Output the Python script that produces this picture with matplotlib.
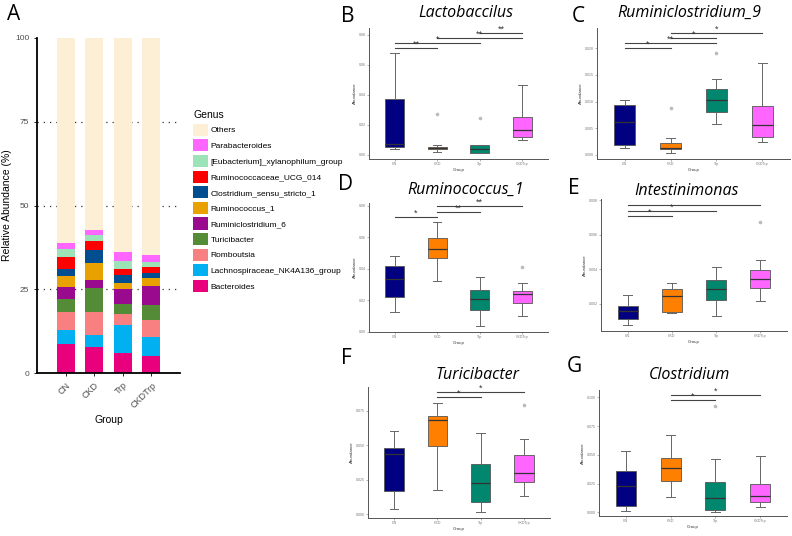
import matplotlib
matplotlib.use("Agg")
import matplotlib.pyplot as plt
import numpy as np

W, H = 792, 536

groups = ["CN", "CKD", "Trp", "CKDTrp"]

# panel A: relative abundance (%) per group
genus = ["Bacteroides", "Lachnospiraceae_NK4A136_group", "Romboutsia", "Turicibacter",
         "Ruminiclostridium_6", "Ruminococcus_1", "Clostridium_sensu_stricto_1",
         "Ruminococcaceae_UCG_014", "[Eubacterium]_xylanophilum_group", "Parabacteroides", "Others"]
genus_colors = ["#E8007D", "#00B0F0", "#F88080", "#548B36", "#9A0A8E", "#E8A100",
                "#004E8F", "#FF0000", "#9DE3B8", "#FF66FF", "#FDEED6"]
bacteroides = [8.8, 7.7, 5.9, 5.2]
lachno = [4.1, 3.5, 8.5, 5.5]
romboutsia = [5.2, 7.0, 3.3, 5.2]
turicibacter = [4.1, 7.1, 3.0, 4.4]
ruminiclost6 = [3.5, 2.6, 4.5, 5.6]
ruminococcus1 = [3.2, 5.0, 1.8, 2.5]
clost_sensu = [2.2, 3.7, 2.3, 1.6]
rum_ucg014 = [3.5, 2.8, 1.7, 1.6]
eubacterium = [2.4, 1.8, 2.5, 1.6]
parabacteroides = [1.8, 1.6, 2.6, 2.0]
others = [61.2, 57.2, 63.9, 64.8]
abund = [bacteroides, lachno, romboutsia, turicibacter, ruminiclost6, ruminococcus1,
         clost_sensu, rum_ucg014, eubacterium, parabacteroides, others]

# box panels: [whislo, q1, med, q3, whishi] for CN, CKD, Trp, CKDTrp
box_colors = ["#000080", "#FF7F00", "#00876E", "#FF66FF"]

lacto_box = [[0.0040, 0.0053, 0.0071, 0.0371, 0.0678],
             [0.0018, 0.0038, 0.0047, 0.0053, 0.0064],
             [0.0013, 0.0013, 0.0040, 0.0062, 0.0067],
             [0.0100, 0.0118, 0.0164, 0.0253, 0.0462]]
lacto_out = [[], [0.0273], [0.0244], []]
lacto_sig = [(1, 2, 0.0711, "**"), (1, 3, 0.0744, "*"), (2, 4, 0.0776, "**"), (3, 4, 0.0809, "**")]

rum9_box = [[0.0013, 0.0019, 0.0061, 0.0093, 0.0104],
            [0.0004, 0.0011, 0.0014, 0.0023, 0.0032],
            [0.0059, 0.0080, 0.0103, 0.0123, 0.0143],
            [0.0024, 0.0034, 0.0057, 0.0091, 0.0173]]
rum9_out = [[], [0.0088], [0.0191], []]
rum9_sig = [(1, 2, 0.0200, "*"), (1, 3, 0.0210, "**"), (2, 3, 0.0219, "*"), (2, 4, 0.0229, "*")]

rum1_box = [[0.0128, 0.0221, 0.0334, 0.0417, 0.0479],
            [0.0321, 0.0466, 0.0526, 0.0596, 0.0694],
            [0.0036, 0.0136, 0.0206, 0.0264, 0.0345],
            [0.0098, 0.0181, 0.0238, 0.0257, 0.0306]]
rum1_out = [[], [], [], [0.0413]]
rum1_sig = [(1, 2, 0.0728, "*"), (2, 3, 0.0760, "**"), (2, 4, 0.0798, "**")]

intest_box = [[0.00078, 0.00111, 0.00157, 0.00188, 0.00252],
              [0.00148, 0.00153, 0.00241, 0.00283, 0.00322],
              [0.00126, 0.00219, 0.00283, 0.00334, 0.00410],
              [0.00217, 0.00289, 0.00342, 0.00394, 0.00450]]
intest_out = [[], [], [], [0.00672]]
intest_sig = [(1, 2, 0.00705, "*"), (1, 3, 0.00738, "*"), (1, 4, 0.00773, "")]

turici_box = [[0.0041, 0.0167, 0.0440, 0.0481, 0.0606],
              [0.0179, 0.0493, 0.0684, 0.0710, 0.0807],
              [0.0017, 0.0087, 0.0227, 0.0367, 0.0592],
              [0.0130, 0.0237, 0.0302, 0.0432, 0.0546]]
turici_out = [[], [], [], [0.0790]]
turici_sig = [(2, 3, 0.0848, "*"), (2, 4, 0.0886, "*")]

clost_box = [[0.0015, 0.0058, 0.0227, 0.0358, 0.0532],
             [0.0131, 0.0270, 0.0384, 0.0471, 0.0669],
             [0.0006, 0.0023, 0.0128, 0.0265, 0.0468],
             [0.0047, 0.0087, 0.0142, 0.0250, 0.0494]]
clost_out = [[], [], [0.0927], []]
clost_sig = [(2, 3, 0.0974, "*"), (2, 4, 0.1020, "*")]


def rect(l, t, r, b):
    return [l / W, 1 - b / H, (r - l) / W, (b - t) / H]


fig = plt.figure(figsize=(W / 100, H / 100), dpi=100)
plt.rcParams['font.family'] = ['Liberation Sans', 'DejaVu Sans']

# ---- panel A ----
axA = fig.add_axes(rect(37, 38, 180, 373))
x = np.arange(1, len(groups) + 1)
bottom = np.zeros(len(groups))
bars = []
for name, vals, col in zip(genus, abund, genus_colors):
    b = axA.bar(x, vals, 0.63, bottom=bottom, color=col, label=name, zorder=2)
    bars.append(b)
    bottom += np.array(vals)
axA.set_xlim(0, 5)
axA.set_ylim(0, 100)
axA.set_yticks([0, 25, 50, 75, 100])
for yv in [25, 50, 75]:
    axA.axhline(yv, color="#333333", lw=0.9, ls=(0, (1, 4)), zorder=1)
axA.set_xticks(x)
axA.set_xticklabels(groups, rotation=45, ha="right", rotation_mode="anchor", fontsize=6.5, color="#4D4D4D")
axA.tick_params(axis="y", labelsize=6, labelcolor="#4D4D4D", length=2, width=0.6)
axA.tick_params(axis="x", length=2, width=0.6)
for s in ["top", "right"]:
    axA.spines[s].set_visible(False)
axA.spines["left"].set_linewidth(1.3)
axA.spines["bottom"].set_linewidth(1.3)
axA.set_ylabel("Relative Abundance (%)", fontsize=7.5, labelpad=2)
axA.set_xlabel("Group", fontsize=7.5, labelpad=4)
leg = fig.legend(handles=bars[::-1], labels=genus[::-1], title="Genus",
                 loc="upper left", bbox_to_anchor=(193 / W, 1 - 110 / H),
                 frameon=False, fontsize=6, title_fontsize=7.5, handlelength=1.8,
                 handleheight=1.85, labelspacing=0.43, handletextpad=0.3,
                 borderpad=0, borderaxespad=0, alignment="left")


def draw_box(ax, stats5, outl, sig, ylim, ticks, fmt):
    stats = []
    for g, s, o in zip(groups, stats5, outl):
        stats.append(dict(label=g, whislo=s[0], q1=s[1], med=s[2], q3=s[3], whishi=s[4], fliers=o))
    bp = ax.bxp(stats, positions=[1, 2, 3, 4], widths=0.45, patch_artist=True, capwidths=0.2,
                boxprops=dict(edgecolor="#555555", linewidth=0.6),
                whiskerprops=dict(color="#666666", linewidth=0.7),
                capprops=dict(color="#666666", linewidth=0.7),
                medianprops=dict(color="#333333", linewidth=0.9),
                flierprops=dict(marker="o", markersize=1.6, markerfacecolor="#BBBBBB",
                                markeredgecolor="#BBBBBB"))
    for patch, col in zip(bp["boxes"], box_colors):
        patch.set_facecolor(col)
    for a, b, yv, lab in sig:
        ax.plot([a, b], [yv, yv], color="#444444", lw=0.8, clip_on=False)
        if lab:
            ax.annotate(lab, ((a + b) / 2, yv), xytext=(0, -0.5), textcoords="offset points",
                        ha="center", va="bottom", fontsize=6.5, color="#333333")
    ax.set_xlim(0.4, 4.6)
    ax.set_ylim(*ylim)
    ax.set_yticks(ticks)
    ax.set_yticklabels([fmt.format(t) for t in ticks])
    ax.set_xticks([1, 2, 3, 4])
    ax.set_xticklabels(groups)
    ax.tick_params(labelsize=2.6, labelcolor="#777777", length=1.2, width=0.4, color="#777777", pad=1)
    for s in ["top", "right"]:
        ax.spines[s].set_visible(False)
    for s in ["left", "bottom"]:
        ax.spines[s].set_color("#555555")
        ax.spines[s].set_linewidth(0.7)
    ax.set_xlabel("Group", fontsize=3.2, labelpad=1.5, color="#333333")
    ax.set_ylabel("Abundance", fontsize=3.2, labelpad=1.5, color="#333333")


axB = fig.add_axes(rect(369, 28, 548, 159))
draw_box(axB, lacto_box, lacto_out, lacto_sig, (-0.0029, 0.0844), [0, 0.02, 0.04, 0.06, 0.08], "{:.2f}")
axC = fig.add_axes(rect(597, 28, 790, 159))
draw_box(axC, rum9_box, rum9_out, rum9_sig, (-0.00075, 0.0238), [0, 0.005, 0.01, 0.015, 0.02], "{:.3f}")
axD = fig.add_axes(rect(369, 203, 548, 332))
draw_box(axD, rum1_box, rum1_out, rum1_sig, (-0.0002, 0.0817), [0, 0.02, 0.04, 0.06, 0.08], "{:.2f}")
axE = fig.add_axes(rect(601, 199, 787, 331))
draw_box(axE, intest_box, intest_out, intest_sig, (0.00041, 0.00806), [0.002, 0.004, 0.006, 0.008], "{:.3f}")
axF = fig.add_axes(rect(368, 387, 550, 518))
draw_box(axF, turici_box, turici_out, turici_sig, (-0.0027, 0.0923), [0, 0.025, 0.05, 0.075], "{:.3f}")
axG = fig.add_axes(rect(599, 390, 787, 516))
draw_box(axG, clost_box, clost_out, clost_sig, (-0.0032, 0.1064), [0, 0.025, 0.05, 0.075, 0.1], "{:.3f}")

# titles and panel letters
titles = [("Lactobaccilus", 466, 13), ("Ruminiclostridium_9", 689, 13), ("Ruminococcus_1", 466, 190),
          ("Intestinimonas", 687, 191), ("Turicibacter", 478, 375), ("Clostridium", 690, 375)]
for t, tx, ty in titles:
    fig.text(tx / W, 1 - ty / H, t, ha="center", va="center", fontsize=11.5,
             style="italic", family=["Open Sans", "DejaVu Sans"])
letters = [("A", 14, 15), ("B", 348, 16), ("C", 578, 16), ("D", 346, 185),
           ("E", 574, 188), ("F", 346, 358), ("G", 574, 366)]
for t, tx, ty in letters:
    fig.text(tx / W, 1 - ty / H, t, ha="center", va="center", fontsize=15,
             family=["Open Sans", "DejaVu Sans"])

fig.savefig("out.png", dpi=100)
